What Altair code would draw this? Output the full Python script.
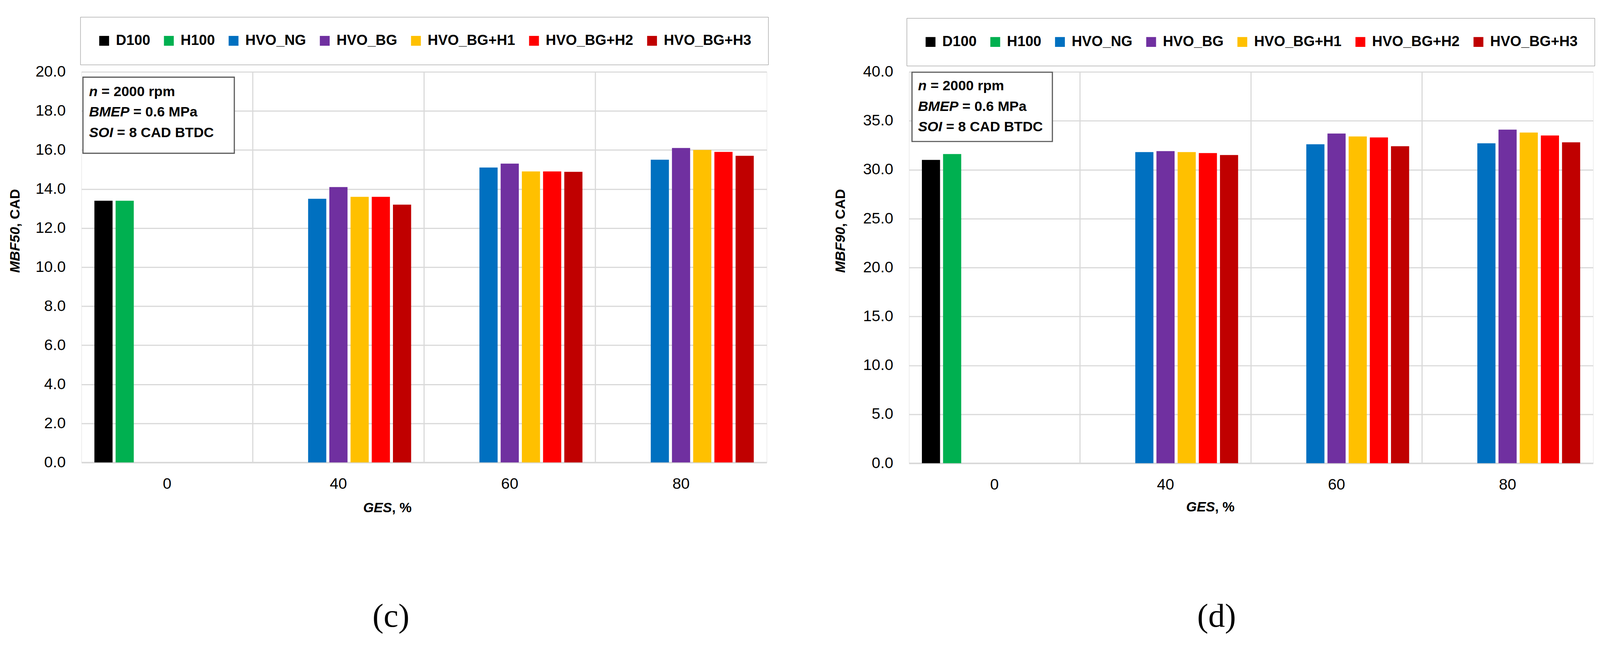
import altair as alt
import pandas as pd

# ---------------- data ----------------
ges = ["0", "40", "60", "80"]
series = ["D100", "H100", "HVO_NG", "HVO_BG", "HVO_BG+H1", "HVO_BG+H2", "HVO_BG+H3"]
colors = ["#000000", "#00B050", "#0070C0", "#7030A0", "#FFC000", "#FF0000", "#C00000"]

# MBF50, CAD  (values per GES category 0, 40, 60, 80; None = no bar)
mbf50_D100 = [13.4, None, None, None]
mbf50_H100 = [13.4, None, None, None]
mbf50_HVO_NG = [None, 13.5, 15.1, 15.5]
mbf50_HVO_BG = [None, 14.1, 15.3, 16.1]
mbf50_HVO_BG_H1 = [None, 13.6, 14.9, 16.0]
mbf50_HVO_BG_H2 = [None, 13.6, 14.9, 15.9]
mbf50_HVO_BG_H3 = [None, 13.2, 14.88, 15.7]

# MBF90, CAD
mbf90_D100 = [31.0, None, None, None]
mbf90_H100 = [31.6, None, None, None]
mbf90_HVO_NG = [None, 31.8, 32.6, 32.7]
mbf90_HVO_BG = [None, 31.9, 33.7, 34.1]
mbf90_HVO_BG_H1 = [None, 31.8, 33.4, 33.8]
mbf90_HVO_BG_H2 = [None, 31.7, 33.3, 33.5]
mbf90_HVO_BG_H3 = [None, 31.5, 32.4, 32.8]

y50_ticks = [0.0, 2.0, 4.0, 6.0, 8.0, 10.0, 12.0, 14.0, 16.0, 18.0, 20.0]
y90_ticks = [0.0, 5.0, 10.0, 15.0, 20.0, 25.0, 30.0, 35.0, 40.0]
boundary_cats = ["40", "60", "80"]


def long_df(cols):
    rows = []
    for s, vals in zip(series, cols):
        for g, v in zip(ges, vals):
            if v is not None:
                rows.append({"GES": g, "series": s, "value": v})
    return pd.DataFrame(rows)


df50 = long_df([mbf50_D100, mbf50_H100, mbf50_HVO_NG, mbf50_HVO_BG,
                mbf50_HVO_BG_H1, mbf50_HVO_BG_H2, mbf50_HVO_BG_H3])
df90 = long_df([mbf90_D100, mbf90_H100, mbf90_HVO_NG, mbf90_HVO_BG,
                mbf90_HVO_BG_H1, mbf90_HVO_BG_H2, mbf90_HVO_BG_H3])
bounds_df = pd.DataFrame({"GES": boundary_cats})
one = pd.DataFrame({"k": [0]})

SANS = "Liberation Sans"
SERIF = "Liberation Serif"
GRID = "#d9d9d9"


def txt(s, x, y, size, style="normal", weight="bold", angle=0, align="left",
        font=SANS):
    return alt.Chart(one).mark_text(
        text=s, font=font, fontSize=size, fontStyle=style, fontWeight=weight,
        angle=angle, align=align, baseline="middle", color="#000000"
    ).encode(x=alt.value(x), y=alt.value(y))


def panel(df, ymax, yticks, width, height, legend_x, legend_y, box, text_x0,
          text_ys, ytitle_main, ytitle_x, ytitle_y0, xtitle_x0, xtitle_y,
          label, label_x, label_y):
    xscale = alt.Scale(domain=ges, paddingInner=0, paddingOuter=0)
    xaxis = alt.Axis(title=None, labelAngle=0, ticks=False, tickSize=0,
                     grid=False, domainColor=GRID, domainWidth=4,
                     labelPadding=37, labelFont=SANS, labelFontSize=41,
                     labelColor="#000000")
    bars = alt.Chart(df).mark_bar().encode(
        x=alt.X("GES:N", scale=xscale, sort=ges, axis=xaxis),
        xOffset=alt.XOffset("series:N", sort=series,
                            scale=alt.Scale(domain=series, paddingInner=0.143,
                                            paddingOuter=0.61)),
        y=alt.Y("value:Q", scale=alt.Scale(domain=[0, ymax], nice=False),
                axis=alt.Axis(title=None, values=yticks, format=".1f",
                              ticks=False, tickSize=0, domain=False, grid=True,
                              gridColor=GRID, gridWidth=3, labelPadding=42,
                              labelFont=SANS, labelFontSize=41,
                              labelColor="#000000")),
        color=alt.Color("series:N", sort=series,
                        scale=alt.Scale(domain=series, range=colors),
                        legend=alt.Legend(
                            title=None, orient="none", legendX=legend_x,
                            legendY=legend_y, direction="horizontal",
                            symbolType="square", symbolSize=676,
                            symbolStrokeWidth=0, symbolOpacity=1,
                            labelFont=SANS, labelFontSize=38,
                            labelFontWeight="bold", labelColor="#000000",
                            labelOffset=12, columnPadding=30, padding=44,
                            labelLimit=500, strokeColor="#7f7f7f")),
    )
    rules = alt.Chart(bounds_df).mark_rule(color=GRID, strokeWidth=3).encode(
        x=alt.X("GES:N", scale=xscale, sort=ges, bandPosition=0, axis=xaxis)
    )
    bx0, bx1, by0, by1 = box
    rect = alt.Chart(one).mark_rect(fill="white", stroke="#595959",
                                    strokeWidth=3).encode(
        x=alt.value(bx0), x2=alt.value(bx1), y=alt.value(by0), y2=alt.value(by1)
    )
    fs = 37
    ann = [
        txt("n", text_x0, text_ys[0], fs, style="italic"),
        txt("= 2000 rpm", text_x0 + 33, text_ys[0], fs),
        txt("BMEP", text_x0, text_ys[1], fs, style="italic"),
        txt("= 0.6 MPa", text_x0 + 117, text_ys[1], fs),
        txt("SOI", text_x0, text_ys[2], fs, style="italic"),
        txt("= 8 CAD BTDC", text_x0 + 74, text_ys[2], fs),
    ]
    titles = [
        txt(ytitle_main, ytitle_x, ytitle_y0, 37, style="italic", angle=270),
        txt(", CAD", ytitle_x, ytitle_y0 - 121, 37, angle=270),
        txt("GES", xtitle_x0, xtitle_y, 36, style="italic"),
        txt(", %", xtitle_x0 + 76, xtitle_y, 36),
        txt(label, label_x, label_y, 88, weight="normal", align="center",
            font=SERIF),
    ]
    return alt.layer(rules, bars, rect, *ann, *titles).properties(
        width=width, height=height
    )


# common plot top at page y = 188
left = panel(df50, 20, y50_ticks, 1811, 1032, -3, -145, (4, 404, 14, 215), 20,
             [53, 107, 162], "MBF50", -175, 531, 744.5, 1153, "(c)", 818, 1440)
right = panel(df90, 40, y90_ticks, 1808, 1034, -6, -142, (8, 379, 1, 184), 24,
              [38, 92, 146], "MBF90", -180, 531, 732.5, 1150, "(d)", 813, 1440)

chart = alt.hconcat(left, right, spacing=376, bounds="flush").resolve_scale(
    x="independent", y="independent", color="independent",
    xOffset="independent"
).resolve_legend(color="independent").properties(
    padding={"left": 12, "top": 9, "right": 5, "bottom": 5}
).configure_view(stroke=GRID, strokeWidth=3).configure_legend(
    strokeWidth=3
).configure(background="white")

chart.save("out.html", embed_options={"renderer": "svg", "actions": False})
